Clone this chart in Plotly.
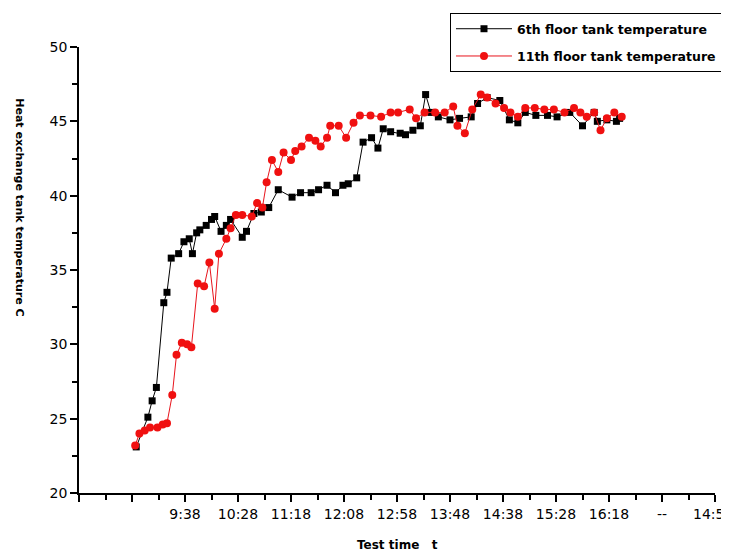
import plotly.graph_objects as go

# ---- data ----
floor6_times = ["8:52", "9:03", "9:07", "9:11", "9:18", "9:21", "9:25", "9:32", "9:37", "9:42",
                "9:45", "9:49", "9:52", "9:58", "10:03", "10:06", "10:12", "10:17", "10:21", "10:32",
                "10:36", "10:43", "10:50", "10:57", "11:06", "11:19", "11:27", "11:37", "11:44", "11:52",
                "12:00", "12:07", "12:12", "12:20", "12:26", "12:34", "12:40", "12:45", "12:52", "13:01",
                "13:06", "13:13", "13:20", "13:25", "13:30", "13:37", "13:48", "13:57", "14:08", "14:14",
                "14:23", "14:35", "14:44", "14:52", "14:59", "15:09", "15:20", "15:29", "15:41", "15:53",
                "16:04", "16:07", "16:16", "16:25", "16:28"]
floor6_temps = [23.1, 25.1, 26.2, 27.1, 32.8, 33.5, 35.8, 36.1, 36.9, 37.1,
                36.1, 37.5, 37.7, 38.0, 38.4, 38.6, 37.6, 38.0, 38.4, 37.2,
                37.6, 38.8, 38.9, 39.2, 40.4, 39.9, 40.2, 40.2, 40.4, 40.7,
                40.2, 40.7, 40.8, 41.2, 43.6, 43.9, 43.2, 44.5, 44.3, 44.2,
                44.1, 44.4, 44.7, 46.8, 45.6, 45.3, 45.1, 45.2, 45.3, 46.2,
                46.6, 46.4, 45.1, 44.9, 45.6, 45.4, 45.4, 45.3, 45.6, 44.7,
                45.6, 45.0, 45.1, 45.0, 45.2]

floor11_times = ["8:51", "8:55", "9:00", "9:05", "9:12", "9:17", "9:21", "9:26", "9:30", "9:35",
                 "9:40", "9:44", "9:50", "9:56", "10:01", "10:06", "10:10", "10:17", "10:21", "10:26",
                 "10:32", "10:41", "10:46", "10:51", "10:55", "11:00", "11:06", "11:11", "11:18", "11:22",
                 "11:28", "11:35", "11:41", "11:46", "11:52", "11:55", "12:03", "12:10", "12:17", "12:23",
                 "12:33", "12:43", "12:52", "12:59", "13:10", "13:16", "13:24", "13:34", "13:43", "13:51",
                 "13:55", "14:02", "14:09", "14:17", "14:23", "14:31", "14:39", "14:45", "14:52", "14:59",
                 "15:08", "15:17", "15:26", "15:36", "15:45", "15:51", "15:57", "16:04", "16:10", "16:16",
                 "16:23", "16:30"]
floor11_temps = [23.2, 24.0, 24.2, 24.4, 24.4, 24.6, 24.7, 26.6, 29.3, 30.1,
                 30.0, 29.8, 34.1, 33.9, 35.5, 32.4, 36.1, 37.1, 37.8, 38.7,
                 38.7, 38.6, 39.5, 39.2, 40.9, 42.4, 41.6, 42.9, 42.4, 43.0,
                 43.3, 43.9, 43.7, 43.3, 43.9, 44.7, 44.7, 43.9, 44.9, 45.4,
                 45.4, 45.3, 45.6, 45.6, 45.8, 45.2, 45.6, 45.6, 45.6, 46.0,
                 44.7, 44.2, 45.8, 46.8, 46.6, 46.2, 45.9, 45.6, 45.3, 45.9,
                 45.9, 45.8, 45.8, 45.6, 45.9, 45.6, 45.3, 45.6, 44.4, 45.2,
                 45.6, 45.3]

x_tick_times = ["7:58", "8:48", "9:38", "10:28", "11:18", "12:08", "12:58", "13:48",
                "14:38", "15:28", "16:18", "17:08", "17:58"]
x_tick_labels = ["", "", "9:38", "10:28", "11:18", "12:08", "12:58", "13:48",
                 "14:38", "15:28", "16:18", "--", ""]
last_tick_label = "14:5"
y_ticks = [20, 25, 30, 35, 40, 45, 50]


def to_min(t):
    h, m = t.split(":")
    return int(h) * 60 + int(m)


x6 = [to_min(t) for t in floor6_times]
x11 = [to_min(t) for t in floor11_times]
xt = [to_min(t) for t in x_tick_times]
x_minor = [(a + b) / 2 for a, b in zip(xt[:-1], xt[1:])]
y_minor = [(a + b) / 2 for a, b in zip(y_ticks[:-1], y_ticks[1:])]

FONT = "DejaVu Sans"

fig = go.Figure()
fig.add_trace(go.Scatter(
    x=x6, y=floor6_temps, mode="lines+markers", name="6th floor tank temperature",
    legendgroup="a",
    line=dict(color="black", width=1),
    marker=dict(symbol="square", size=7, color="black"),
))
fig.add_trace(go.Scatter(
    x=x11, y=floor11_temps, mode="lines+markers", name="11th floor tank temperature",
    legendgroup="b",
    line=dict(color="#e8141c", width=1),
    marker=dict(symbol="circle", size=8, color="#f01010"),
))

fig.update_layout(
    width=721, height=549,
    margin=dict(l=71, r=14, t=39, b=64, autoexpand=False),
    paper_bgcolor="white", plot_bgcolor="white",
    font=dict(family=FONT, size=14, color="black"),
    showlegend=True,
    legend=dict(
        x=1.011, y=1.076, xanchor="right", yanchor="top",
        bordercolor="black", borderwidth=1, bgcolor="white",
        font=dict(family=FONT, size=12.5, color="black", weight="bold"),
        tracegroupgap=8, itemwidth=56,
    ),
    xaxis=dict(
        range=[xt[0], xt[-1]], automargin=False,
        tickmode="array", tickvals=xt, ticktext=x_tick_labels,
        ticks="outside", ticklen=7, tickwidth=1.5, tickcolor="black",
        minor=dict(tickmode="array", tickvals=x_minor, ticks="outside",
                   ticklen=5, tickwidth=1.5, tickcolor="black"),
        showline=True, linecolor="black", linewidth=1.5,
        showgrid=False, zeroline=False,
        tickfont=dict(family=FONT, size=14, color="black"),
    ),
    yaxis=dict(
        range=[20, 50], automargin=False,
        tickmode="array", tickvals=y_ticks,
        ticks="outside", ticklen=7, tickwidth=1.5, tickcolor="black",
        minor=dict(tickmode="array", tickvals=y_minor, ticks="outside",
                   ticklen=5, tickwidth=1.5, tickcolor="black"),
        showline=True, linecolor="black", linewidth=1.5,
        showgrid=False, zeroline=False,
        tickfont=dict(family=FONT, size=14, color="black"),
    ),
    annotations=[
        dict(text="Heat exchange tank temperature C", textangle=90,
             xref="paper", yref="paper", x=-0.093, y=0.641,
             xanchor="center", yanchor="middle", showarrow=False,
             font=dict(family=FONT, size=11, color="black", weight="bold")),
        dict(text="Test time   t",
             xref="paper", yref="paper", x=0.5, y=-0.117,
             xanchor="center", yanchor="middle", showarrow=False,
             font=dict(family=FONT, size=12, color="black", weight="bold")),
        dict(text=last_tick_label,
             xref="paper", yref="paper", x=1.017, y=-0.046,
             xanchor="right", yanchor="middle", showarrow=False,
             font=dict(family=FONT, size=14, color="black")),
    ],
)

fig.write_html("out.html")
